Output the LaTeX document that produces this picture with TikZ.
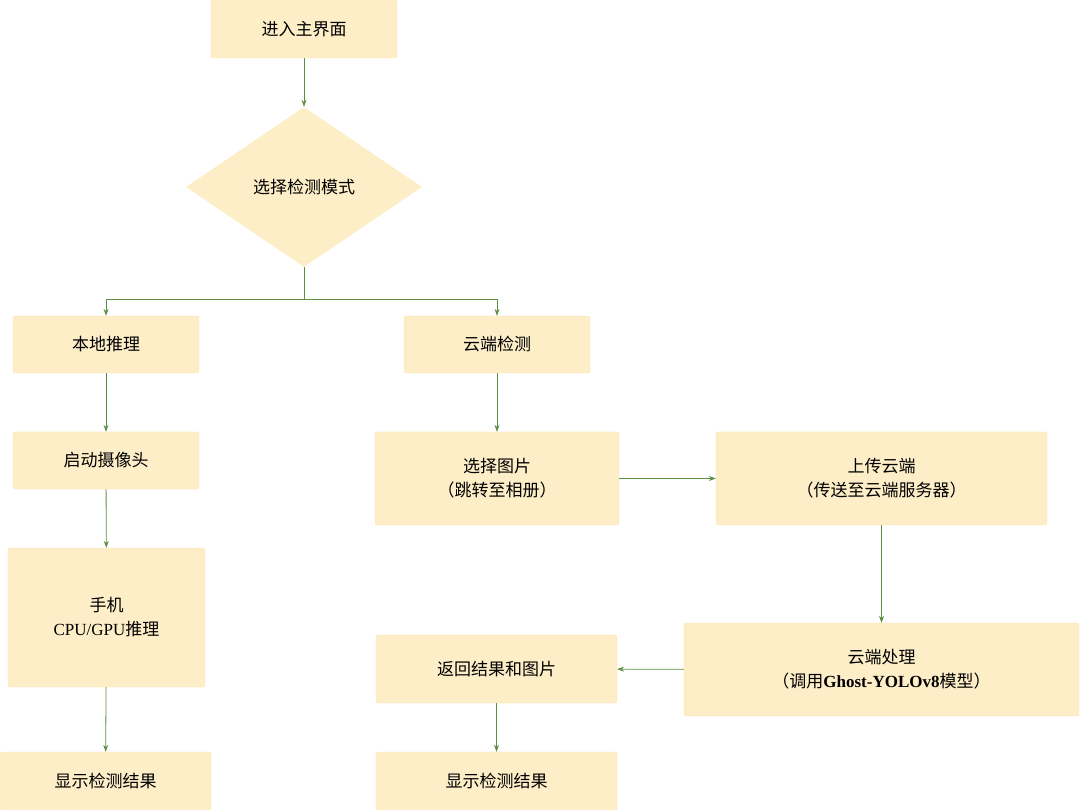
\documentclass[tikz,border=0pt]{standalone}
\usepackage{fontspec}
\setmainfont{Liberation Serif}
\newfontfamily\cjk{Noto Sans CJK SC}
\usetikzlibrary{shapes.geometric,arrows.meta}
\definecolor{boxfill}{HTML}{FDEEC8}
\definecolor{arr}{HTML}{5E8F45}
\tikzset{
  bx/.style={rectangle, rounded corners=2pt, fill=boxfill, draw=boxfill!85!orange, line width=0.3pt, inner sep=0pt, align=center, font=\cjk\fontsize{17}{24}\selectfont},
  dm/.style={diamond, fill=boxfill, inner sep=0pt, minimum width=236pt, minimum height=160pt, aspect=1.475, align=center, font=\cjk\fontsize{17}{24}\selectfont},
  ar/.style={draw=arr, line width=0.8pt, -{Stealth[length=7pt,width=5pt]}},
  ln/.style={draw=arr, line width=0.8pt}
}
\begin{document}
\begin{tikzpicture}[x=1pt,y=-1pt]
\useasboundingbox (0,0) rectangle (1080,810);
\node[bx, minimum width=186pt, minimum height=58pt] (start) at (304,29) {进入主界面};
\node[dm] (mode) at (304,187) {选择检测模式};
\node[bx, minimum width=186pt, minimum height=57pt] (local) at (106,344.5) {本地推理};
\node[bx, minimum width=186pt, minimum height=57pt] (cloud) at (497,344.5) {云端检测};
\node[bx, minimum width=186pt, minimum height=57pt] (cam) at (106,460.5) {启动摄像头};
\node[bx, minimum width=244pt, minimum height=93pt] (pick) at (497,478.5) {选择图片\\（跳转至相册）};
\node[bx, minimum width=331pt, minimum height=93pt] (upload) at (881.5,478.5) {上传云端\\（传送至云端服务器）};
\node[bx, minimum width=197pt, minimum height=139pt] (phone) at (106.5,617.5) {手机\\{\rmfamily CPU/GPU}推理};
\node[bx, minimum width=395pt, minimum height=93pt] (proc) at (881.5,669.5) {云端处理\\（调用{\rmfamily\bfseries Ghost-YOLOv8}模型）};
\node[bx, minimum width=241pt, minimum height=68pt] (ret) at (496.5,669) {返回结果和图片};
\node[bx, minimum width=211pt, minimum height=58pt] (showl) at (105.5,781) {显示检测结果};
\node[bx, minimum width=241pt, minimum height=58pt] (showr) at (496.5,781) {显示检测结果};
\coordinate (j) at (304,299);
\draw[ar] (start) -- (mode);
\draw[ln] (mode.south) -- (j);
\draw[ar] (j) -| (local.north);
\draw[ar] (j) -| (cloud.north);
\draw[ar] (local) -- (cam);
\draw[ar] (cam) -- (phone);
\draw[ar] (phone) -- (showl);
\draw[ar] (cloud) -- (pick);
\draw[ar] (pick) -- (upload);
\draw[ar] (upload) -- (proc);
\draw[ar] (proc) -- (ret);
\draw[ar] (ret) -- (showr);
\end{tikzpicture}
\end{document}
